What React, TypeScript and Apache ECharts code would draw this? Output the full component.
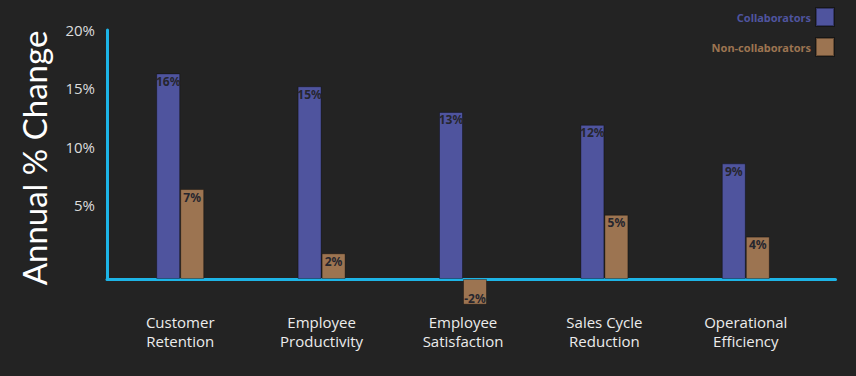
import React, { useEffect, useRef } from "react";
import * as echarts from "echarts";

const categories = [
  "Customer\nRetention",
  "Employee\nProductivity",
  "Employee\nSatisfaction",
  "Sales Cycle\nReduction",
  "Operational\nEfficiency",
];
const collaborators = [16, 15, 13, 12, 9];
const nonCollaborators = [7, 2, -2, 5, 3.3];
const collaboratorLabels = ["16%", "15%", "13%", "12%", "9%"];
const nonCollaboratorLabels = ["7%", "2%", "-2%", "5%", "4%"];
const tickValues = [5, 10, 15, 20];

const BLUE = "#4F549E";
const BROWN = "#9C7451";
const CYAN = "#1DB4E6";
const BG = "#232323";
const NARROW = "'Noto Sans', 'Liberation Sans', sans-serif";
const SANS = "'Open Sans', 'Noto Sans', sans-serif";

function barData(values: number[]) {
  return values.map((v) =>
    v < 0
      ? { value: v, label: { position: "insideBottom", distance: 0 } }
      : { value: v }
  );
}

export default function App() {
  const ref = useRef<HTMLDivElement>(null);
  useEffect(() => {
    if (!ref.current) return;
    const chart = echarts.init(ref.current, null, { renderer: "svg" });
    const labelStyle = {
      show: true,
      position: "insideTop",
      distance: 2,
      color: "#26262e",
      fontFamily: NARROW,
      fontStyle: "condensed",
      fontWeight: "bold",
      fontSize: 12,
    };
    chart.setOption({
      animation: false,
      backgroundColor: BG,
      grid: [
        { left: 107, top: 30, width: 728.5, height: 249 },
        { left: 109.5, top: 22, width: 707, height: 257 },
      ],
      xAxis: [
        {
          type: "value",
          gridIndex: 0,
          min: 0,
          max: 1,
          axisLine: { show: true, onZero: false, lineStyle: { color: CYAN, width: 3 } },
          axisTick: { show: false },
          axisLabel: { show: false },
          splitLine: { show: false },
        },
        {
          type: "category",
          gridIndex: 1,
          data: categories,
          axisLine: { show: false },
          axisTick: { show: false },
          axisLabel: {
            margin: 33,
            color: "#ececec",
            fontFamily: SANS,
            fontSize: 15,
            lineHeight: 19,
          },
          splitLine: { show: false },
        },
      ],
      yAxis: [
        {
          type: "value",
          gridIndex: 0,
          min: -1.29,
          max: 20,
          axisLine: { show: true, onZero: false, lineStyle: { color: CYAN, width: 3 } },
          axisTick: { show: false },
          splitLine: { show: false },
          axisLabel: {
            customValues: tickValues,
            formatter: "{value}%",
            color: "#dcdcdc",
            fontFamily: SANS,
            fontSize: 15,
            margin: 12,
          },
        },
        {
          type: "value",
          gridIndex: 1,
          min: 0,
          max: 20,
          show: false,
        },
      ],
      legend: {
        orient: "vertical",
        right: 21,
        top: 7,
        padding: 0,
        align: "right",
        itemWidth: 18,
        itemHeight: 18,
        itemGap: 10,
        icon: "rect",
        textStyle: { fontFamily: NARROW, fontStyle: "condensed", fontWeight: "bold", fontSize: 11 },
        data: [
          { name: "Collaborators", textStyle: { color: BLUE } },
          { name: "Non-collaborators", textStyle: { color: BROWN } },
        ],
      },
      graphic: [
        {
          type: "text",
          x: 34,
          y: 158,
          rotation: Math.PI / 2,
          style: {
            text: "Annual % Change",
            fill: "#ffffff",
            font: "33px Lato, 'Open Sans', sans-serif",
            align: "center",
            verticalAlign: "middle",
          },
        },
      ],
      series: [
        {
          name: "Collaborators",
          type: "bar",
          xAxisIndex: 1,
          yAxisIndex: 1,
          data: barData(collaborators),
          barWidth: 24,
          barGap: "0%",
          clip: false,
          itemStyle: { color: BLUE, borderColor: "rgba(0,0,0,0.35)", borderWidth: 1 },
          label: { ...labelStyle, formatter: (p: any) => collaboratorLabels[p.dataIndex] },
        },
        {
          name: "Non-collaborators",
          type: "bar",
          xAxisIndex: 1,
          yAxisIndex: 1,
          data: barData(nonCollaborators),
          barWidth: 24,
          barGap: "0%",
          clip: false,
          itemStyle: { color: BROWN, borderColor: "rgba(0,0,0,0.35)", borderWidth: 1 },
          label: { ...labelStyle, formatter: (p: any) => nonCollaboratorLabels[p.dataIndex] },
        },
      ],
    });
    return () => chart.dispose();
  }, []);
  return <div ref={ref} style={{ width: 856, height: 376, position: "absolute", left: 0, top: 0 }} />;
}
